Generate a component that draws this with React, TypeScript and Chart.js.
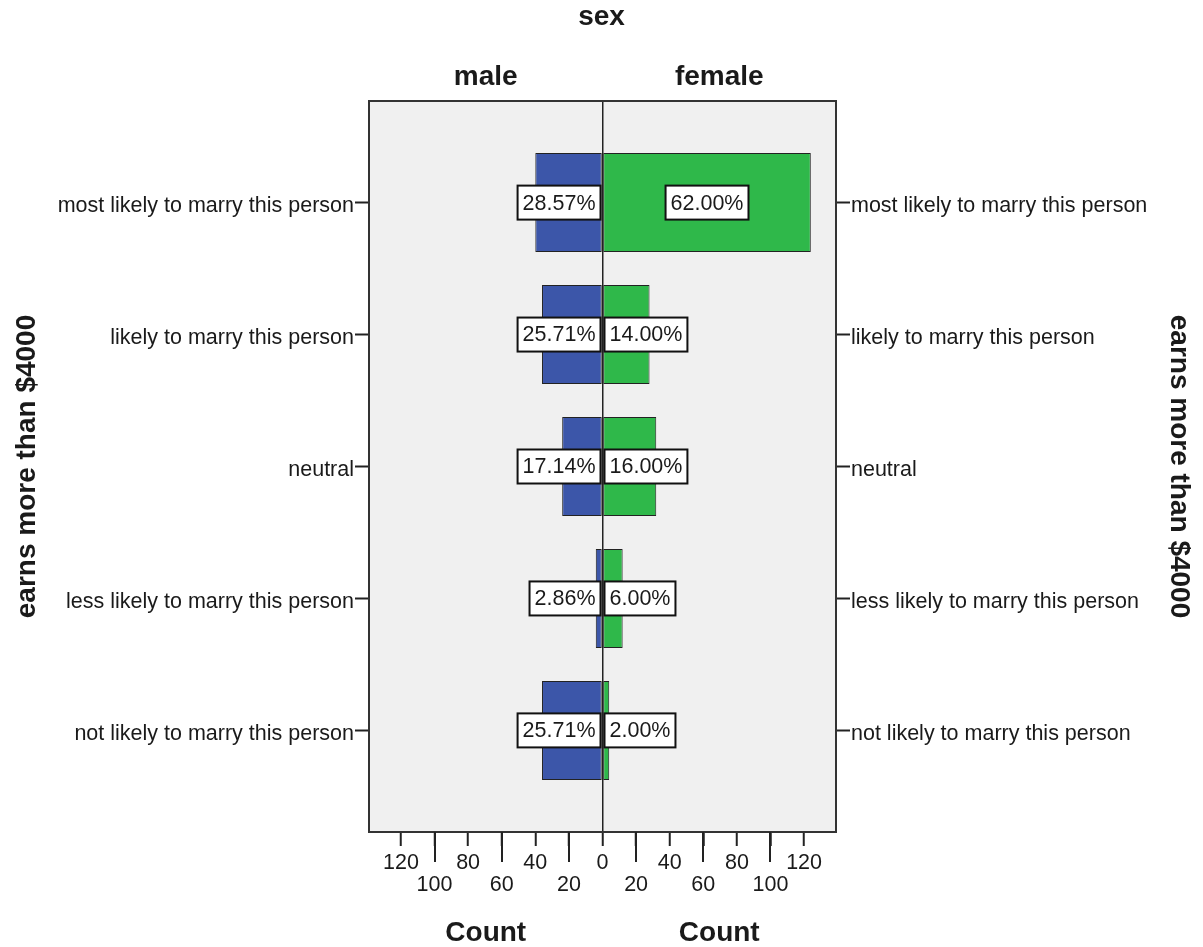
import React, { useEffect, useRef } from 'react';
import { Chart, registerables } from 'chart.js';

Chart.register(...registerables);

// ---- data ----
const categories = [
  'most likely to marry this person',
  'likely to marry this person',
  'neutral',
  'less likely to marry this person',
  'not likely to marry this person',
];
const maleCounts = [40, 36, 24, 4, 36];
const femaleCounts = [124, 28, 32, 12, 4];
const groupLabels = ['male', 'female'];
const countTickValues = [0, 20, 40, 60, 80, 100, 120];
const panelTitle = 'sex';
const rowTitle = 'earns more than $4000';
const countTitle = 'Count';

const FONT = "'Liberation Sans', Arial, sans-serif";
const TEXT = '#1a1a1a';
const LINE = '#222222';
const W = 1203;
const H = 947;

const mirroredTicks = () => [
  ...countTickValues.slice(1).reverse().map((v) => ({ value: -v })),
  ...countTickValues.map((v) => ({ value: v })),
];

const rowTicks = () => categories.map((_, i) => ({ value: i }));

const bgPlugin = {
  id: 'plotBg',
  beforeDraw(chart: any) {
    const { ctx, chartArea: a } = chart;
    ctx.save();
    ctx.fillStyle = '#f0f0f0';
    ctx.fillRect(a.left, a.top, a.right - a.left, a.bottom - a.top);
    ctx.restore();
  },
};

const labelPlugin = {
  id: 'pctLabels',
  afterDatasetsDraw(chart: any) {
    const { ctx } = chart;
    const x0 = chart.scales.x.getPixelForValue(0);
    ctx.save();
    ctx.font = `21.5px ${FONT}`;
    chart.data.datasets.forEach((ds: any, di: number) => {
      const meta = chart.getDatasetMeta(di);
      const counts = di === 0 ? maleCounts : femaleCounts;
      const total = counts.reduce((s, v) => s + v, 0);
      const dir = di === 0 ? -1 : 1;
      meta.data.forEach((bar: any, i: number) => {
        const text = ((counts[i] / total) * 100).toFixed(2) + '%';
        const tw = ctx.measureText(text).width;
        const w = tw + 10;
        const h = 34;
        const barW = Math.abs(bar.x - bar.base);
        const cx = barW > w + 6 ? (bar.x + bar.base) / 2 : x0 + dir * (2 + w / 2);
        const y = bar.y;
        ctx.fillStyle = '#ffffff';
        ctx.fillRect(cx - w / 2, y - h / 2, w, h);
        ctx.lineWidth = 2;
        ctx.strokeStyle = '#111111';
        ctx.strokeRect(cx - w / 2, y - h / 2, w, h);
        ctx.fillStyle = TEXT;
        ctx.textAlign = 'center';
        ctx.textBaseline = 'middle';
        ctx.fillText(text, cx, y + 1);
      });
    });
    ctx.restore();
  },
};

const framePlugin = {
  id: 'frame',
  afterDraw(chart: any) {
    const { ctx, chartArea: a } = chart;
    const xs = chart.scales.x;
    ctx.save();
    ctx.strokeStyle = '#333333';
    ctx.lineWidth = 2;
    ctx.strokeRect(a.left, a.top, a.right - a.left, a.bottom - a.top);
    ctx.strokeStyle = LINE;
    ctx.lineWidth = 2;
    xs.ticks.forEach((t: any) => {
      if (Math.abs(t.value) % 40 === 20) {
        const px = Math.round(xs.getPixelForValue(t.value));
        ctx.beginPath();
        ctx.moveTo(px, a.bottom);
        ctx.lineTo(px, a.bottom + 30);
        ctx.stroke();
      }
    });
    ctx.restore();
  },
};

const boldFont = { family: FONT, size: 28, weight: 'bold' as const, lineHeight: 1.2 };
const normalFont = { family: FONT, size: 21.5, lineHeight: 1.0 };

export default function App() {
  const ref = useRef<HTMLCanvasElement>(null);

  useEffect(() => {
    if (!ref.current) return;
    Chart.defaults.font.family = FONT;
    const yCommon = (side: 'left' | 'right', width: number, titlePad: number) => ({
      type: 'linear' as const,
      position: side,
      axis: 'y' as const,
      min: -0.77,
      max: 4.77,
      reverse: true,
      offset: false,
      afterBuildTicks: (s: any) => {
        s.ticks = rowTicks();
      },
      afterFit: (s: any) => {
        s.width = width;
      },
      ticks: {
        autoSkip: false,
        padding: 1,
        labelOffset: 3.5,
        color: TEXT,
        font: normalFont,
        callback: (v: any) => categories[Number(v)] ?? '',
      },
      grid: {
        offset: false,
        drawOnChartArea: false,
        drawTicks: true,
        tickLength: 14,
        tickWidth: 2,
        tickColor: LINE,
      },
      border: { display: false },
      title: {
        display: true,
        text: rowTitle,
        color: TEXT,
        font: boldFont,
        padding: { top: titlePad, bottom: 0 },
      },
    });

    const chart = new Chart(ref.current, {
      type: 'bar',
      data: {
        datasets: [
          {
            label: groupLabels[0],
            data: maleCounts.map((v, i) => ({ x: -v, y: i })),
            backgroundColor: '#3c56a9',
            borderColor: LINE,
            borderWidth: 1,
            borderSkipped: false,
            barPercentage: 0.75,
            categoryPercentage: 1,
            xAxisID: 'x',
            yAxisID: 'y',
          },
          {
            label: groupLabels[1],
            data: femaleCounts.map((v, i) => ({ x: v, y: i })),
            backgroundColor: '#2fb84a',
            borderColor: LINE,
            borderWidth: 1,
            borderSkipped: false,
            barPercentage: 0.75,
            categoryPercentage: 1,
            xAxisID: 'x',
            yAxisID: 'y',
          },
        ],
      } as any,
      options: {
        indexAxis: 'y',
        responsive: false,
        animation: false,
        events: [],
        layout: { padding: 0 },
        plugins: {
          legend: { display: false },
          tooltip: { enabled: false },
          title: {
            display: true,
            text: panelTitle,
            color: TEXT,
            font: boldFont,
            padding: { top: 0, bottom: 0 },
          },
        },
        scales: {
          x: {
            type: 'linear',
            position: 'bottom',
            axis: 'x',
            min: -139,
            max: 139,
            stacked: true,
            weight: 0,
            afterBuildTicks: (s: any) => {
              s.ticks = mirroredTicks();
            },
            afterFit: (s: any) => {
              s.height = 70;
            },
            ticks: {
              autoSkip: false,
              maxRotation: 0,
              minRotation: 0,
              padding: 6.5,
              color: TEXT,
              font: normalFont,
              callback: (v: any) => {
                const a = Math.abs(Number(v));
                return a % 40 === 20 ? ['', String(a)] : [String(a)];
              },
            },
            grid: {
              drawOnChartArea: true,
              drawTicks: true,
              tickLength: 14,
              tickWidth: 2,
              tickColor: LINE,
              lineWidth: 1.5,
              color: (c: any) => (c.tick && c.tick.value === 0 ? LINE : 'rgba(0,0,0,0)'),
            },
            border: { display: false },
          },
          y: { ...yCommon('left', 369, 10.5), stacked: true },
          yRight: yCommon('right', W - 836, 7.5),
          xTop: {
            type: 'category',
            position: 'top',
            axis: 'x',
            labels: groupLabels,
            offset: true,
            afterFit: (s: any) => {
              s.height = 101 - 33.6;
            },
            grid: { display: false, drawTicks: false },
            border: { display: false },
            ticks: { padding: 7, color: TEXT, font: boldFont, autoSkip: false, maxRotation: 0 },
          },
          xCount: {
            type: 'category',
            position: 'bottom',
            axis: 'x',
            weight: 1,
            labels: [countTitle, countTitle],
            offset: true,
            afterFit: (s: any) => {
              s.height = H - 832 - 70;
            },
            grid: { display: false, drawTicks: false },
            border: { display: false },
            ticks: { padding: 14.5, color: TEXT, font: boldFont, autoSkip: false, maxRotation: 0 },
          },
        } as any,
      },
      plugins: [bgPlugin, labelPlugin, framePlugin],
    } as any);
    return () => chart.destroy();
  }, []);

  return (
    <div style={{ position: 'absolute', left: 0, top: 0, width: W, height: H }}>
      <canvas ref={ref} width={W} height={H} style={{ display: 'block' }} />
    </div>
  );
}
